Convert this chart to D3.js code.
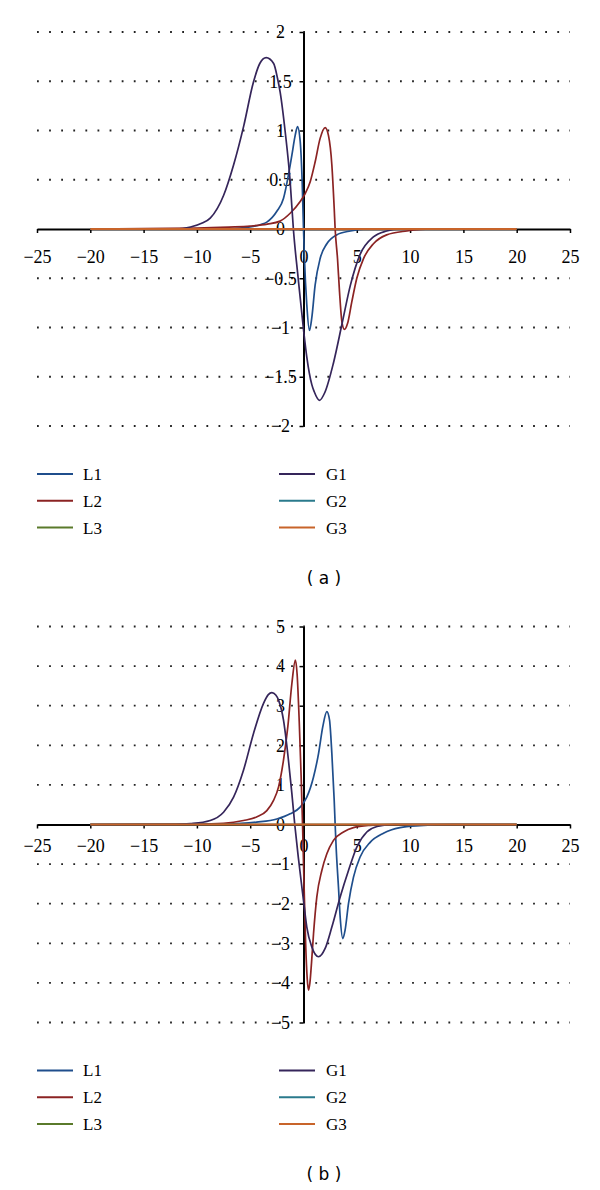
<!DOCTYPE html>
<html>
<head>
<meta charset="utf-8">
<script src="https://cdnjs.cloudflare.com/ajax/libs/d3/7.8.5/d3.min.js"></script>
<style>
  body { margin: 0; background: #fff; }
  svg { display: block; }
</style>
</head>
<body>
<svg id="chart" width="600" height="1190"></svg>
<script>
// tick values shared by both panels
var xTicks = [-25, -20, -15, -10, -5, 0, 5, 10, 15, 20, 25];
var aYTicks = [-2, -1.5, -1, -0.5, 0, 0.5, 1, 1.5, 2];
var bYTicks = [-5, -4, -3, -2, -1, 0, 1, 2, 3, 4, 5];

var seriesNames = ["L1", "L2", "L3", "G1", "G2", "G3"];
var seriesColors = ["#1f4e8c", "#8b2323", "#5a7a2b", "#35255a", "#2a7a8c", "#c8642a"];

// panel (a) curves, [x, y]
var aL1 = [[-20,0],[-8,0],[-6,0.01],[-5,0.02],[-4,0.045],[-3.44,0.07],[-2.5,0.18],[-1.88,0.31],[-1.41,0.55],
  [-1.09,0.75],[-0.78,0.95],[-0.56,1.04],[-0.31,0.89],[-0.125,0.48],[0,0],[0.09,-0.3],[0.31,-0.77],
  [0.56,-1.03],[0.78,-0.9],[1.09,-0.57],[1.56,-0.3],[2.19,-0.15],[3.1,-0.06],[4.4,-0.02],[6,0],[20,0]];
var aL2 = [[-20,0],[-10,0.01],[-7,0.02],[-5,0.03],[-3.4,0.05],[-2.2,0.08],[-1.25,0.16],[-0.31,0.28],
  [0.16,0.36],[0.63,0.48],[1.09,0.68],[1.56,0.92],[2.03,1.03],[2.34,0.95],[2.66,0.65],[2.88,0.21],
  [2.97,0],[3.19,-0.3],[3.38,-0.64],[3.6,-0.94],[3.84,-1.02],[4.13,-0.96],[4.53,-0.74],[5.0,-0.5],
  [5.63,-0.3],[6.56,-0.15],[7.8,-0.06],[9.7,-0.02],[12,0],[20,0]];
var aL3 = [[-20,0],[20,0]];
var aG1 = [[-20,0],[-12,0],[-10.6,0.02],[-9.5,0.06],[-8.75,0.11],[-7.5,0.34],[-6.56,0.65],[-5.6,1.05],
  [-4.7,1.49],[-4.1,1.68],[-3.5,1.74],[-2.8,1.68],[-2.44,1.53],[-2.19,1.39],[-1.72,0.99],[-1.25,0.48],
  [-0.95,0],[-0.5,-0.5],[0,-1.02],[0.31,-1.3],[0.78,-1.58],[1.0,-1.65],[1.5,-1.74],[2.0,-1.66],
  [2.81,-1.36],[3.6,-0.97],[4.4,-0.57],[5.3,-0.26],[6.56,-0.08],[7.8,-0.02],[9,0],[20,0]];
var aG2 = [[-20,0],[20,0]];
var aG3 = [[-20,0],[20,0]];

// panel (b) curves
var bL1 = [[-20,0],[-10,0.005],[-7.5,0.01],[-4.4,0.06],[-2.5,0.14],[-1.25,0.27],[-0.31,0.44],[0.31,0.69],
  [0.94,1.2],[1.41,1.79],[1.81,2.47],[2.19,2.85],[2.44,2.64],[2.66,1.79],[2.88,0.61],[2.97,0],
  [3.06,-0.57],[3.28,-1.58],[3.44,-2.34],[3.69,-2.88],[3.9,-2.67],[4.22,-2.0],[4.69,-1.33],[5.31,-0.82],
  [6.25,-0.45],[7.5,-0.22],[9.06,-0.08],[10.9,-0.03],[14,0],[20,0]];
var bL2 = [[-20,0],[-10,0.01],[-7.5,0.03],[-5.63,0.1],[-4.4,0.19],[-3.44,0.35],[-2.81,0.61],[-2.34,0.95],
  [-1.88,1.62],[-1.47,2.47],[-1.09,3.56],[-0.76,4.15],[-0.6,3.8],[-0.4,2.6],[-0.22,1.2],[-0.09,0],
  [0.05,-1.5],[0.2,-3.0],[0.35,-3.9],[0.47,-4.18],[0.6,-4.0],[0.75,-3.5],[0.94,-2.76],[1.25,-1.83],
  [1.72,-1.16],[2.19,-0.74],[2.81,-0.4],[3.75,-0.19],[4.69,-0.08],[6.25,-0.02],[8,0],[20,0]];
var bL3 = [[-20,0],[20,0]];
var bG1 = [[-20,0],[-12,0],[-10.6,0.02],[-8.75,0.1],[-7.5,0.31],[-6.56,0.69],[-5.63,1.37],[-4.69,2.3],
  [-3.75,3.06],[-3.3,3.28],[-2.97,3.33],[-2.6,3.27],[-2.34,3.14],[-1.88,2.64],[-1.41,1.62],[-1.09,0.78],
  [-0.82,0],[-0.5,-0.8],[0,-1.92],[0.31,-2.59],[0.78,-3.09],[1.41,-3.34],[2.03,-3.13],[2.66,-2.59],
  [3.44,-1.83],[4.22,-1.16],[5.0,-0.57],[5.94,-0.19],[6.9,-0.05],[8.5,0],[20,0]];
var bG2 = [[-20,0],[20,0]];
var bG3 = [[-20,0],[20,0]];

var svg = d3.select("#chart");
var serif = "'Liberation Serif', 'Times New Roman', serif";

function fmt(d) {
    return (d < 0 ? "\u2212" : "") + Math.abs(d);
}

function drawPanel(opt) {
    var x = d3.scaleLinear().domain([-25, 25]).range([37, 570]);
    var y = d3.scaleLinear().domain(opt.yDomain).range(opt.yRange);
    var g = svg.append("g");

    // dotted grid lines
    g.selectAll("line.grid")
        .data(opt.yTicks.filter(function(d) { return d !== 0; }))
        .enter().append("line")
        .attr("class", "grid")
        .attr("x1", x(-25)).attr("x2", x(25))
        .attr("y1", function(d) { return y(d); })
        .attr("y2", function(d) { return y(d); })
        .attr("stroke", "#222")
        .attr("stroke-width", 1.8)
        .attr("stroke-dasharray", "1.8,10.3");

    // x axis through y = 0
    var xAxis = g.append("g")
        .attr("transform", "translate(0," + y(0) + ")")
        .call(d3.axisBottom(x).tickValues(xTicks).tickFormat(fmt)
            .tickSize(4).tickSizeOuter(0).tickPadding(opt.xPad));
    // y axis through x = 0
    var yAxis = g.append("g")
        .attr("transform", "translate(" + x(0) + ",0)")
        .call(d3.axisLeft(y).tickValues(opt.yTicks).tickFormat(fmt)
            .tickSize(4).tickSizeOuter(0));

    [xAxis, yAxis].forEach(function(a) {
        a.select(".domain").attr("stroke", "#000").attr("stroke-width", 2);
        a.selectAll(".tick line").attr("stroke", "#000").attr("stroke-width", 1.5);
        a.selectAll("text").attr("fill", "#000")
            .style("font-family", serif).style("font-size", "18px");
    });
    yAxis.selectAll("text").attr("text-anchor", "middle").attr("x", -23);

    // curves
    var line = d3.line()
        .x(function(d) { return x(d[0]); })
        .y(function(d) { return y(d[1]); })
        .curve(d3.curveMonotoneX);

    g.selectAll("path.curve")
        .data(opt.series)
        .enter().append("path")
        .attr("class", "curve")
        .attr("d", line)
        .attr("fill", "none")
        .attr("stroke", function(d, i) { return seriesColors[i]; })
        .attr("stroke-width", function(d, i) { return i === 5 ? 2.2 : 1.7; });

    // legend
    var top = opt.yRange[0] + 48;
    var leg = g.selectAll("g.leg")
        .data(seriesNames)
        .enter().append("g")
        .attr("class", "leg")
        .attr("transform", function(d, i) {
            var col = i < 3 ? 37 : 279;
            return "translate(" + col + "," + (top + (i % 3) * 26.8) + ")";
        });
    leg.append("line")
        .attr("x1", 0).attr("x2", 36)
        .attr("stroke", function(d, i) { return seriesColors[i]; })
        .attr("stroke-width", 2);
    leg.append("text")
        .attr("x", function(d, i) { return i < 3 ? 46 : 47; })
        .attr("dy", "0.35em")
        .style("font-family", serif).style("font-size", "17px")
        .text(function(d) { return d; });

    // caption
    g.append("text")
        .attr("x", 324).attr("y", opt.yRange[0] + 152)
        .attr("dy", "0.35em")
        .attr("text-anchor", "middle")
        .style("font-family", "'DejaVu Sans', sans-serif").style("font-size", "17px")
        .text(opt.caption);
}

drawPanel({
    yDomain: [-2, 2], yRange: [426, 32], yTicks: aYTicks, xPad: 17,
    series: [aL1, aL2, aL3, aG1, aG2, aG3], caption: "( a )"
});
drawPanel({
    yDomain: [-5, 5], yRange: [1022.5, 626.5], yTicks: bYTicks, xPad: 11,
    series: [bL1, bL2, bL3, bG1, bG2, bG3], caption: "( b )"
});
</script>
</body>
</html>
